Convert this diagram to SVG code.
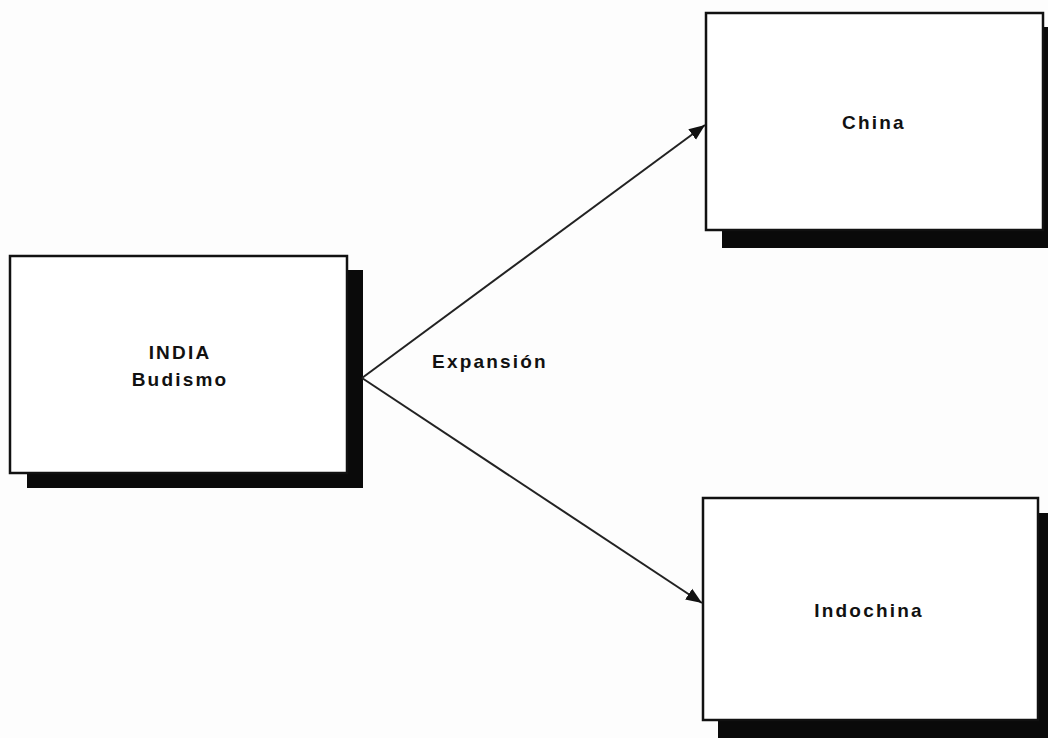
<svg xmlns="http://www.w3.org/2000/svg" width="1048" height="738" viewBox="0 0 1048 738">
<style>
.box{fill:#fff;stroke:#111;stroke-width:2.5}
.shadow{fill:#0a0a0a}
.lbl{font-family:"Liberation Sans",Arial,sans-serif;font-weight:bold;font-size:19px;fill:#111;text-anchor:middle;letter-spacing:2.2px}
.conn{stroke:#222;stroke-width:2;fill:none}
</style>
<defs>
<marker id="arr" viewBox="0 0 10 10" refX="10" refY="5" markerWidth="16" markerHeight="16" markerUnits="userSpaceOnUse" orient="auto">
<path d="M0,1 L10,5 L0,9 z" fill="#111"/>
</marker>
</defs>
<rect width="1048" height="738" fill="#fdfdfd"/>
<g id="india">
<rect class="shadow" x="27" y="270" width="336" height="218"/>
<rect class="box" x="10" y="256" width="337" height="217"/>
<text class="lbl" x="180" y="359">INDIA</text>
<text class="lbl" x="180" y="386">Budismo</text>
</g>
<g id="china">
<rect class="shadow" x="722" y="27" width="330" height="221"/>
<rect class="box" x="706" y="13" width="337" height="217"/>
<text class="lbl" x="874" y="129">China</text>
</g>
<g id="indochina">
<rect class="shadow" x="718" y="513" width="334" height="228"/>
<rect class="box" x="703" y="498" width="335" height="222"/>
<text class="lbl" x="869" y="617">Indochina</text>
</g>
<g id="connectors">
<line class="conn" x1="362" y1="378" x2="705" y2="125" marker-end="url(#arr)"/>
<line class="conn" x1="362" y1="378" x2="702" y2="603" marker-end="url(#arr)"/>
<text class="lbl" x="490" y="368">Expansión</text>
</g>
</svg>
